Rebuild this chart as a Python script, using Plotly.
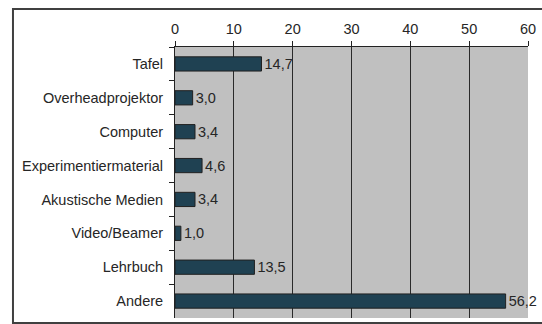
import plotly.graph_objects as go

categories = ["Tafel", "Overheadprojektor", "Computer", "Experimentiermaterial",
              "Akustische Medien", "Video/Beamer", "Lehrbuch", "Andere"]
values = [14.7, 3.0, 3.4, 4.6, 3.4, 1.0, 13.5, 56.2]
x_ticks = [0, 10, 20, 30, 40, 50, 60]

FONT = "Liberation Sans, Arial, sans-serif"

fig = go.Figure(go.Bar(
    x=values,
    y=categories,
    orientation="h",
    marker=dict(color="#1f4152", line=dict(color="#202020", width=1)),
    texttemplate="%{x:.1f}",
    textposition="outside",
    constraintext="none",
    textfont=dict(family=FONT, size=14.5, color="#262626"),
    cliponaxis=False,
    width=0.42,
))

fig.update_layout(
    width=542, height=324,
    margin=dict(l=175, r=10, t=47, b=6),
    paper_bgcolor="white",
    plot_bgcolor="#c0c0c0",
    separators=",.",
    showlegend=False,
    font=dict(family=FONT, size=14.5, color="#262626"),
    xaxis=dict(
        side="top", range=[0, 60], tickvals=x_ticks,
        showgrid=True, gridcolor="#2a2a2a", gridwidth=1,
        ticks="outside", ticklen=5, tickcolor="#222222",
        ticklabelstandoff=1,
        showline=True, linecolor="#222222", linewidth=1,
        zeroline=False, fixedrange=True,
    ),
    yaxis=dict(
        categoryorder="array", categoryarray=categories, autorange="reversed",
        tickson="boundaries", ticks="outside", ticklen=5, tickcolor="#222222",
        ticklabelstandoff=8,
        showline=True, linecolor="#222222", linewidth=1,
        showgrid=False, fixedrange=True,
    ),
    shapes=[dict(
        type="rect", xref="paper", yref="paper",
        x0=-0.459, x1=1.2, y0=-0.0185, y1=1.14,
        line=dict(color="#404040", width=2), layer="below",
    )],
)

fig.write_html("out.html")
